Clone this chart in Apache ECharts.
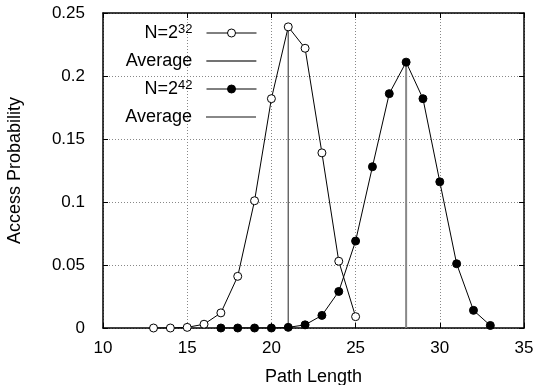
<!DOCTYPE html>
<html>
<head>
<meta charset="utf-8">
<script src="https://cdn.jsdelivr.net/npm/echarts@6/dist/echarts.min.js"></script>
<style>
  html, body { margin: 0; padding: 0; background: #fff; }
  #chart { width: 539px; height: 385px; }
</style>
</head>
<body>
<div id="chart"></div>
<script>
// path length on x, access probability on y
const lengths32 = [13, 14, 15, 16, 17, 18, 19, 20, 21, 22, 23, 24, 25]
const prob32 = [0, 0, 0.0005, 0.003, 0.012, 0.041, 0.101, 0.182, 0.239, 0.222, 0.139, 0.053, 0.009]
const lengths42 = [17, 18, 19, 20, 21, 22, 23, 24, 25, 26, 27, 28, 29, 30, 31, 32, 33]
const prob42 = [0, 0, 0, 0, 0.0005, 0.0025, 0.01, 0.029, 0.069, 0.128, 0.186, 0.211, 0.182, 0.116, 0.051, 0.014, 0.002]
const averages = [21, 28]
const averageTops = [0.238, 0.21]
const xTicks = { min: 10, max: 35, step: 5 }
const yTicks = { min: 0, max: 0.25, step: 0.05 }

const FONT = 'Liberation Sans'
const legendText = {
  n32: 'N=2{sup|32}',
  avg32: 'Average',
  n42: 'N=2{sup|42}',
  avg42: 'Average',
}
// one legend box per row, so each row can sit where the reference has it
const legendRows = [
  { name: 'n32', top: 23, hideDot: false, line: { color: '#000', width: 1 } },
  { name: 'avg32', top: 51, hideDot: true, line: { color: '#444', width: 1.3 } },
  { name: 'n42', top: 79, hideDot: false, line: { color: '#000', width: 1 } },
  { name: 'avg42', top: 107, hideDot: true, line: { color: '#888', width: 2 } },
]

const chart = echarts.init(document.getElementById('chart'), null, { renderer: 'canvas' })

const gridLine = { show: true, lineStyle: { color: '#888', type: [1, 2], width: 1 } }
const frameLine = { show: true, onZero: false, lineStyle: { color: '#000', width: 1.5 } }
const tick = { show: true, inside: true, length: 5, lineStyle: { color: '#000' } }

const xBase = { type: 'value', min: xTicks.min, max: xTicks.max, interval: xTicks.step }
const yBase = { type: 'value', min: yTicks.min, max: yTicks.max, interval: yTicks.step }

chart.setOption({
  animation: false,
  grid: { left: 103, right: 15, top: 13, bottom: 57, outerBoundsMode: 'none' },
  legend: legendRows.map((row) => ({
    orient: 'vertical',
    align: 'right',
    right: 282,
    top: row.top,
    padding: 0,
    itemWidth: 50,
    itemHeight: 10,
    data: [{
      name: row.name,
      lineStyle: row.line,
      itemStyle: row.hideDot ? { opacity: 0 } : { borderWidth: 1 },
    }],
    formatter: (name) => legendText[name],
    textStyle: {
      fontFamily: FONT,
      fontSize: 18,
      lineHeight: 20,
      color: '#000',
      padding: [0, 9, 0, 0],
      rich: {
        sup: { fontFamily: FONT, fontSize: 13, lineHeight: 12, color: '#000', verticalAlign: 'top' },
      },
    },
  })),
  xAxis: [
    {
      ...xBase,
      position: 'bottom',
      name: 'Path Length',
      nameLocation: 'middle',
      nameGap: 40,
      nameTextStyle: { fontFamily: FONT, fontSize: 18, color: '#000' },
      axisLine: frameLine,
      axisTick: tick,
      splitLine: gridLine,
      axisLabel: { fontFamily: FONT, fontSize: 17, color: '#000', margin: 12 },
    },
    {
      ...xBase,
      position: 'top',
      axisLine: frameLine,
      axisTick: tick,
      splitLine: { show: false },
      axisLabel: { show: false },
    },
  ],
  yAxis: [
    {
      ...yBase,
      position: 'left',
      name: 'Access Probability',
      nameLocation: 'middle',
      nameGap: 79,
      nameTextStyle: { fontFamily: FONT, fontSize: 18, color: '#000' },
      axisLine: frameLine,
      axisTick: tick,
      splitLine: gridLine,
      axisLabel: { fontFamily: FONT, fontSize: 17, color: '#000', margin: 18 },
    },
    {
      ...yBase,
      position: 'right',
      axisLine: frameLine,
      axisTick: tick,
      splitLine: { show: false },
      axisLabel: { show: false },
    },
  ],
  series: [
    {
      name: 'n32',
      type: 'line',
      data: lengths32.map((x, i) => [x, prob32[i]]),
      symbol: 'circle',
      symbolSize: 8,
      lineStyle: { color: '#000', width: 1 },
      itemStyle: { color: '#fff', borderColor: '#000', borderWidth: 1 },
      z: 3,
    },
    {
      name: 'avg32',
      type: 'line',
      data: [[averages[0], 0], [averages[0], averageTops[0]]],
      symbol: 'none',
      lineStyle: { color: '#555', width: 1.3 },
      itemStyle: { color: '#555' },
      z: 2,
    },
    {
      name: 'n42',
      type: 'line',
      data: lengths42.map((x, i) => [x, prob42[i]]),
      symbol: 'circle',
      symbolSize: 8,
      lineStyle: { color: '#000', width: 1 },
      itemStyle: { color: '#000', borderColor: '#000', borderWidth: 1 },
      z: 3,
    },
    {
      name: 'avg42',
      type: 'line',
      data: [[averages[1], 0], [averages[1], averageTops[1]]],
      symbol: 'none',
      lineStyle: { color: '#888', width: 2 },
      itemStyle: { color: '#888' },
      z: 2,
    },
  ],
})
</script>
</body>
</html>
